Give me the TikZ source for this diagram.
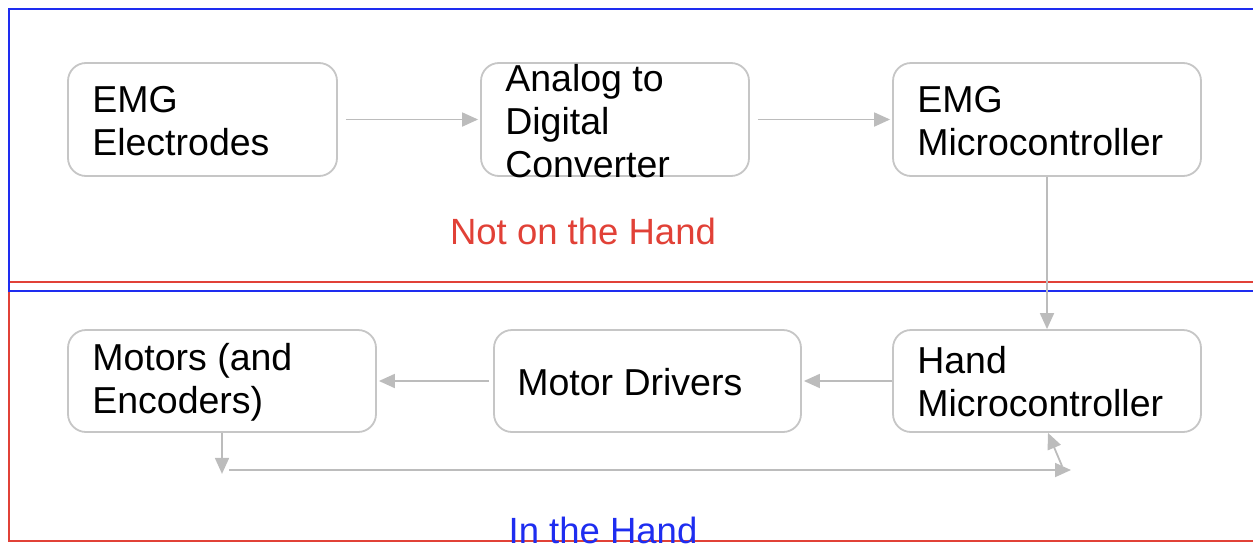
\documentclass[tikz,border=0pt]{standalone}
\usepackage{fontspec}
\setmainfont{Liberation Sans}
\usetikzlibrary{arrows.meta}
\definecolor{linegray}{RGB}{188,188,188}
\definecolor{boxgray}{RGB}{198,198,198}
\definecolor{frameblue}{RGB}{30,45,240}
\definecolor{framered}{RGB}{225,65,55}
\begin{document}
\begin{tikzpicture}[x=1pt,y=-1pt,
  box/.style={draw=boxgray, line width=1.8pt, rounded corners=18pt, fill=white, inner sep=0pt},
  txt/.style={anchor=west, align=left, inner sep=0pt, font=\fontsize{37.5}{43}\selectfont},
  conn/.style={draw=linegray, line width=1.8pt, -{Triangle[length=16pt,width=14pt]}},
]
\useasboundingbox (0,0) rectangle (1253,544);
% frames
\draw[framered, line width=1.8pt] (9,282) rectangle (1265,541);
\draw[frameblue, line width=1.8pt] (9,9) rectangle (1265,291);
\node[font=\fontsize{36.5}{40}\selectfont, text=framered, inner sep=0pt] (notlabel) at (583,231) {Not on the Hand};
\node[font=\fontsize{36.5}{40}\selectfont, text=frameblue, inner sep=0pt, anchor=base] (inlabel) at (603,543) {In the Hand};
% boxes
\node[box, minimum width=269pt, minimum height=113pt] (b1) at (202.5,119.5) {};
\node[box, minimum width=268pt, minimum height=113pt] (b2) at (615,119.5) {};
\node[box, minimum width=308pt, minimum height=113pt] (b3) at (1047,119.5) {};
\node[box, minimum width=308pt, minimum height=102pt] (b4) at (222,381) {};
\node[box, minimum width=307pt, minimum height=102pt] (b5) at (647.5,381) {};
\node[box, minimum width=308pt, minimum height=102pt] (b6) at (1047,381) {};
% texts
\node[txt] (t1) at ([xshift=25pt,yshift=-2pt]b1.west) {EMG\\Electrodes};
\node[txt] (t2) at ([xshift=25pt,yshift=-2pt]b2.west) {Analog to\\Digital\\Converter};
\node[txt] (t3) at ([xshift=25pt,yshift=-2pt]b3.west) {EMG\\Microcontroller};
\node[txt] (t4) at ([xshift=25pt,yshift=-1pt]b4.west) {Motors (and\\Encoders)};
\node[txt] (t5) at ([xshift=24pt,yshift=-1pt]b5.west) {Motor Drivers};
\node[txt] (t6) at ([xshift=25pt,yshift=-1pt]b6.west) {Hand\\Microcontroller};
% connectors
\draw[conn] ([xshift=8pt]b1.east) -- ([xshift=-2pt]b2.west);
\draw[conn] ([xshift=8pt]b2.east) -- ([xshift=-2pt]b3.west);
\draw[conn] (b3.south) -- (b6.north);
\draw[conn] (b6.west) -- ([xshift=2pt]b5.east);
\draw[conn] ([xshift=-4pt]b5.west) -- ([xshift=2pt]b4.east);
\coordinate (fbstart) at (229,470);
\coordinate (fbend) at (1071,470);
\coordinate (fbup) at (1062,466);
\draw[conn] (b4.south) -- ++(0,41);
\draw[conn] (fbstart) -- (fbend);
\draw[conn] (fbup) -- ([xshift=1pt]b6.south);
\end{tikzpicture}
\end{document}
